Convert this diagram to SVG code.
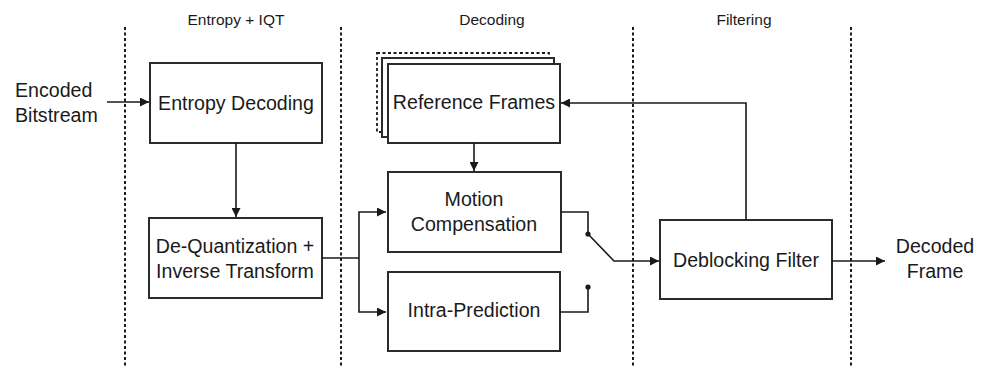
<svg xmlns="http://www.w3.org/2000/svg" width="987" height="368" viewBox="0 0 987 368">
<style>
text{font-family:"Liberation Sans",Arial,sans-serif;fill:#1a1a1a}
.t{font-size:19.6px}
.h{font-size:15.5px}
.box{fill:#fff;stroke:#2b2b2b;stroke-width:2}
.sep{stroke:#1a1a1a;stroke-width:2;stroke-dasharray:3 2.5;fill:none}
.ln{stroke:#1a1a1a;stroke-width:1.6;fill:none}
</style>
<defs>
<marker id="ah" viewBox="0 0 10 10" refX="10" refY="5" markerWidth="9" markerHeight="9" markerUnits="userSpaceOnUse" orient="auto">
<path d="M0,0 L10,5 L0,10 z" fill="#1a1a1a"/>
</marker>
</defs>
<g id="separators">
<line class="sep" x1="125" y1="27" x2="125" y2="366"/>
<line class="sep" x1="341" y1="27" x2="341" y2="366"/>
<line class="sep" x1="633" y1="27" x2="633" y2="366"/>
<line class="sep" x1="851" y1="27" x2="851" y2="366"/>
</g>
<g id="titles" class="h" text-anchor="middle">
<text x="236" y="25">Entropy + IQT</text>
<text x="492" y="25">Decoding</text>
<text x="744" y="25">Filtering</text>
</g>
<g id="input">
<text class="t" x="15" y="97">Encoded</text>
<text class="t" x="15" y="122">Bitstream</text>
</g>
<g id="entropy">
<rect class="box" x="150" y="63" width="172" height="80"/>
<text class="t" x="236" y="110" text-anchor="middle">Entropy Decoding</text>
</g>
<g id="dequant">
<rect class="box" x="149" y="218" width="173" height="80"/>
<text class="t" x="235" y="253" text-anchor="middle">De-Quantization +</text>
<text class="t" x="235" y="278" text-anchor="middle">Inverse Transform</text>
</g>
<g id="refframes">
<rect x="377" y="53" width="172" height="79" fill="none" stroke="#1a1a1a" stroke-width="1.8" stroke-dasharray="3 2.5"/>
<rect class="box" x="382" y="58" width="172" height="79"/>
<rect class="box" x="388" y="64" width="172" height="79"/>
<text class="t" x="474" y="109" text-anchor="middle">Reference Frames</text>
</g>
<g id="motion">
<rect class="box" x="388" y="172" width="173" height="80"/>
<text class="t" x="474" y="206" text-anchor="middle">Motion</text>
<text class="t" x="474" y="231" text-anchor="middle">Compensation</text>
</g>
<g id="intra">
<rect class="box" x="388" y="272" width="172" height="79"/>
<text class="t" x="474" y="317" text-anchor="middle">Intra-Prediction</text>
</g>
<g id="deblock">
<rect class="box" x="660" y="220" width="172" height="79"/>
<text class="t" x="746" y="267" text-anchor="middle">Deblocking Filter</text>
</g>
<g id="output">
<text class="t" x="935" y="253" text-anchor="middle">Decoded</text>
<text class="t" x="935" y="278" text-anchor="middle">Frame</text>
</g>
<g id="connectors">
<line class="ln" x1="107" y1="102" x2="149" y2="102" marker-end="url(#ah)"/>
<line class="ln" x1="236" y1="143" x2="236" y2="217" marker-end="url(#ah)"/>
<polyline class="ln" points="322,258 359,258"/>
<polyline class="ln" points="359,258 359,212 386,212" marker-end="url(#ah)"/>
<polyline class="ln" points="359,258 359,312 386,312" marker-end="url(#ah)"/>
<line class="ln" x1="474" y1="143" x2="474" y2="171" marker-end="url(#ah)"/>
<polyline class="ln" points="561,212 588,212 588,234"/>
<polyline class="ln" points="588,234 614,261 659,261" marker-end="url(#ah)"/>
<polyline class="ln" points="560,312 588,312 588,287"/>
<circle cx="588" cy="234" r="2.6" fill="#1a1a1a"/>
<circle cx="588" cy="287" r="2.6" fill="#1a1a1a"/>
<polyline class="ln" points="746,220 746,103 561,103" marker-end="url(#ah)"/>
<line class="ln" x1="832" y1="261" x2="885" y2="261" marker-end="url(#ah)"/>
</g>
</svg>
